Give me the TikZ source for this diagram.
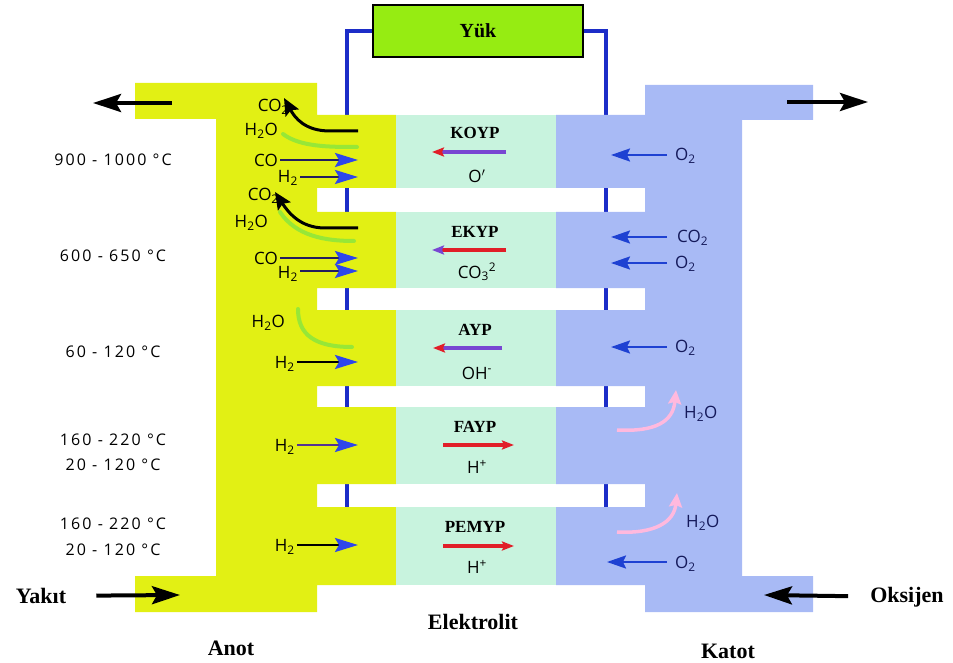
\documentclass[tikz,border=0pt]{standalone}
\usepackage{fontspec}
\setmainfont{Liberation Serif}
\newfontfamily\chemf{Open Sans}
\newfontfamily\tempf[LetterSpace=13]{Open Sans}
\usetikzlibrary{arrows.meta}
\definecolor{anodeY}{RGB}{226,240,20}
\definecolor{elecG}{RGB}{200,243,222}
\definecolor{cathB}{RGB}{168,186,245}
\definecolor{loadG}{RGB}{150,236,18}
\definecolor{wireB}{RGB}{28,45,200}
\definecolor{headblue}{RGB}{45,70,235}
\definecolor{shaftc}{RGB}{35,30,95}
\definecolor{cblue}{RGB}{30,65,210}
\definecolor{navy}{RGB}{20,25,90}
\definecolor{pinkA}{RGB}{255,185,222}
\definecolor{swooshG}{RGB}{120,228,70}
\definecolor{ionred}{RGB}{225,30,40}
\definecolor{ionpurple}{RGB}{120,70,210}
\begin{document}
\begin{tikzpicture}[x=1pt,y=-1pt,
  title/.style={font=\fontsize{22}{24}\selectfont\bfseries, inner sep=0pt},
  celltitle/.style={font=\fontsize{17}{19}\selectfont\bfseries, inner sep=0pt},
  chem/.style={font=\chemf\fontsize{17}{19}\selectfont, inner sep=0pt},
  cchem/.style={chem, text=navy},
  temp/.style={font=\tempf\fontsize{16}{19}\selectfont, inner sep=0pt},
  bigarrow/.style={line width=4pt, -{Stealth[length=28pt,width=18pt,inset=5pt]}},
  anarrow/.style={line width=2.5pt, draw=shaftc, -{Stealth[length=23pt,width=14pt,inset=4pt,color=headblue]}},
  catarrow/.style={line width=2.2pt, draw=cblue, -{Stealth[length=19pt,width=13pt,inset=3pt]}},
  curvarrow/.style={line width=3pt, -{Stealth[length=17pt,width=15pt,inset=3pt]}},
  swoosh/.style={line width=4pt, draw=swooshG, opacity=0.7, line cap=round},
  pinkarrow/.style={line width=3.5pt, draw=pinkA, -{Stealth[length=14pt,width=13pt,inset=2pt]}},
  ionarrow/.style={line width=3.5pt},
  wire/.style={draw=wireB, line width=4pt},
]
\useasboundingbox (0,0) rectangle (953,663);

% load and wires
\node[draw=black, line width=1.2pt, fill=loadG, minimum width=210pt, minimum height=52pt,
      inner sep=0pt, font=\fontsize{20}{22}\selectfont\bfseries] (yuk) at (478,31) {Yük};
\coordinate (wl) at (347,507);
\coordinate (wr) at (606,507);
\draw[wire] (yuk.west) -| (wl);
\draw[wire] (yuk.east) -| (wr);

% anode
\fill[anodeY] (135,83) -- (317,83) -- (317,115) -- (396,115) -- (396,188) -- (317,188)
  -- (317,212) -- (396,212) -- (396,288) -- (317,288) -- (317,310) -- (396,310)
  -- (396,386) -- (317,386) -- (317,407) -- (396,407) -- (396,484) -- (317,484)
  -- (317,507) -- (396,507) -- (396,585) -- (317,585) -- (317,612) -- (135,612)
  -- (135,576) -- (216,576) -- (216,119) -- (135,119) -- cycle;
% electrolyte
\foreach \a/\b in {115/188, 212/288, 310/386, 407/484, 507/585}
  \fill[elecG] (396,\a) rectangle (556,\b);
% cathode
\fill[cathB] (645,85) -- (813,85) -- (813,120) -- (742,120) -- (742,576) -- (813,576)
  -- (813,612) -- (645,612) -- (645,585) -- (556,585) -- (556,507) -- (645,507)
  -- (645,484) -- (556,484) -- (556,407) -- (645,407) -- (645,386) -- (556,386)
  -- (556,310) -- (645,310) -- (645,288) -- (556,288) -- (556,212) -- (645,212)
  -- (645,188) -- (556,188) -- (556,115) -- (645,115) -- cycle;

% exhaust / inlet arrows
\coordinate (aout1) at (172,103); \coordinate (aout2) at (93,103);
\draw[bigarrow] (aout1) -- (aout2);
\coordinate (cout1) at (787,102); \coordinate (cout2) at (868,102);
\draw[bigarrow] (cout1) -- (cout2);
\node[title] (yakit) at (41,596) {Yakıt};
\coordinate (yin) at (180,595);
\draw[bigarrow, shorten <=30pt] (yakit) -- (yin);
\node[title] (oks) at (907,597) {Oksijen};
\coordinate (oin) at (764,595);
\draw[bigarrow, shorten <=22pt] (oks) -- (oin);

% bottom titles
\node[title] (anot) at (231,648) {Anot};
\node[title] (elek) at (473,622) {Elektrolit};
\node[title] (katot) at (728,651) {Katot};

% temperatures
\node[temp] (t1) at (113,160) {900 - 1000 °C};
\node[temp] (t2) at (113,256) {600 - 650 °C};
\node[temp] (t3) at (113,352) {60 - 120 °C};
\node[temp] (t4a) at (113,440) {160 - 220 °C};
\node[temp] (t4b) at (113,465) {20 - 120 °C};
\node[temp] (t5a) at (113,524) {160 - 220 °C};
\node[temp] (t5b) at (113,550) {20 - 120 °C};

% anode row 1
\node[chem, anchor=east] (co2a) at (289,107) {CO\textsubscript{2}};
\node[chem, anchor=east] (h2oa) at (278,131) {H\textsubscript{2}O};
\coordinate (s1a) at (283,134); \coordinate (s1b) at (357,147);
\draw[swoosh] (s1a) .. controls (300,147) and (330,147) .. (s1b);
\coordinate (c1s) at (358,131); \coordinate (c1h) at (284,98);
\draw[curvarrow] (c1s) -- (330,131) .. controls (305,131) and (295,118) .. (c1h);
\node[chem, anchor=east] (coa) at (278,160) {CO};
\coordinate (coae) at (358,160);
\draw[anarrow, shorten <=2pt] (coa) -- (coae);
\node[chem, anchor=east] (h2a) at (298,178) {H\textsubscript{2}};
\coordinate (h2ae) at (358,177);
\draw[anarrow, shorten <=2pt] (h2a.east |- h2ae) -- (h2ae);

% anode row 2
\node[chem, anchor=east] (co2b) at (279,196) {CO\textsubscript{2}};
\node[chem, anchor=east] (h2ob) at (268,223) {H\textsubscript{2}O};
\coordinate (s2a) at (280,212); \coordinate (s2b) at (354,241);
\draw[swoosh] (s2a) .. controls (296,236) and (325,241) .. (s2b);
\coordinate (c2s) at (358,228); \coordinate (c2h) at (275,192);
\draw[curvarrow] (c2s) -- (325,228) .. controls (300,228) and (288,212) .. (c2h);
\node[chem, anchor=east] (cob) at (278,258) {CO};
\coordinate (cobe) at (358,258);
\draw[anarrow, shorten <=2pt] (cob) -- (cobe);
\node[chem, anchor=east] (h2b) at (298,274) {H\textsubscript{2}};
\coordinate (h2be) at (358,271);
\draw[anarrow, shorten <=2pt] (h2b.east |- h2be) -- (h2be);

% anode row 3
\node[chem, anchor=east] (h2oc) at (285,323) {H\textsubscript{2}O};
\coordinate (s3a) at (298,309); \coordinate (s3b) at (352,347);
\draw[swoosh] (s3a) .. controls (298,335) and (315,347) .. (s3b);
\node[chem, anchor=east] (h2c) at (295,364) {H\textsubscript{2}};
\coordinate (h2ce) at (358,362);
\draw[anarrow, draw=black, shorten <=2pt] (h2c.east |- h2ce) -- (h2ce);

% anode row 4
\node[chem, anchor=east] (h2d) at (295,447) {H\textsubscript{2}};
\coordinate (h2de) at (358,445);
\draw[anarrow, draw=ionpurple!70!black, shorten <=2pt] (h2d.east |- h2de) -- (h2de);

% anode row 5
\node[chem, anchor=east] (h2e) at (295,547) {H\textsubscript{2}};
\coordinate (h2ee) at (358,545);
\draw[anarrow, draw=black, shorten <=2pt] (h2e.east |- h2ee) -- (h2ee);

% electrolyte rows
\node[celltitle] (koyp) at (475,133) {KOYP};
\coordinate (k1) at (506,152); \coordinate (k2) at (432,152);
\draw[ionarrow, draw=ionpurple, -{Stealth[length=12pt,width=9pt,inset=2pt,color=ionred]}] (k1) -- (k2);
\node[chem] (oion) at (477,176) {O$^{\prime}$};

\node[celltitle] (ekyp) at (475,232) {EKYP};
\coordinate (e1) at (506,250); \coordinate (e2) at (432,250);
\draw[ionarrow, draw=ionred, -{Stealth[length=12pt,width=9pt,inset=2pt,color=ionpurple]}] (e1) -- (e2);
\node[chem] (co3ion) at (477,272) {CO\textsubscript{3}\textsuperscript{2}};

\node[celltitle] (ayp) at (475,330) {AYP};
\coordinate (a1) at (502,348); \coordinate (a2) at (433,348);
\draw[ionarrow, draw=ionpurple, -{Stealth[length=12pt,width=9pt,inset=2pt,color=ionred]}] (a1) -- (a2);
\node[chem] (ohion) at (477,373) {OH\textsuperscript{-}};

\node[celltitle] (fayp) at (475,427) {FAYP};
\coordinate (f1) at (443,445); \coordinate (f2) at (514,445);
\draw[ionarrow, draw=ionred, -{Stealth[length=12pt,width=9pt,inset=2pt,color=ionred]}] (f1) -- (f2);
\node[chem] (hion1) at (477,467) {H\textsuperscript{+}};

\node[celltitle] (pemyp) at (475,527) {PEMYP};
\coordinate (p1) at (443,546); \coordinate (p2) at (514,546);
\draw[ionarrow, draw=ionred, -{Stealth[length=12pt,width=9pt,inset=2pt,color=ionred]}] (p1) -- (p2);
\node[chem] (hion2) at (477,567) {H\textsuperscript{+}};

% cathode
\node[cchem, anchor=west] (o2a) at (675,156) {O\textsubscript{2}};
\coordinate (o2ae) at (611,155);
\draw[catarrow, shorten <=8pt] (o2a.west |- o2ae) -- (o2ae);
\node[cchem, anchor=west] (co2c) at (677,238) {CO\textsubscript{2}};
\coordinate (co2ce) at (611,237);
\draw[catarrow, shorten <=10pt] (co2c.west |- co2ce) -- (co2ce);
\node[cchem, anchor=west] (o2b) at (675,264) {O\textsubscript{2}};
\coordinate (o2be) at (611,263);
\draw[catarrow, shorten <=8pt] (o2b.west |- o2be) -- (o2be);
\node[cchem, anchor=west] (o2c) at (675,348) {O\textsubscript{2}};
\coordinate (o2ce) at (611,347);
\draw[catarrow, shorten <=8pt] (o2c.west |- o2ce) -- (o2ce);
\node[cchem, anchor=west] (h2od) at (684,414) {H\textsubscript{2}O};
\coordinate (pa1) at (617,430); \coordinate (pa2) at (676,390);
\draw[pinkarrow] (pa1) .. controls (655,432) and (673,422) .. (pa2);
\node[cchem, anchor=west] (h2oe) at (686,523) {H\textsubscript{2}O};
\coordinate (pb1) at (617,532); \coordinate (pb2) at (677,493);
\draw[pinkarrow] (pb1) .. controls (655,534) and (674,522) .. (pb2);
\node[cchem, anchor=west] (o2d) at (675,564) {O\textsubscript{2}};
\coordinate (o2de) at (607,562);
\draw[catarrow, shorten <=8pt] (o2d.west |- o2de) -- (o2de);
\end{tikzpicture}
\end{document}
